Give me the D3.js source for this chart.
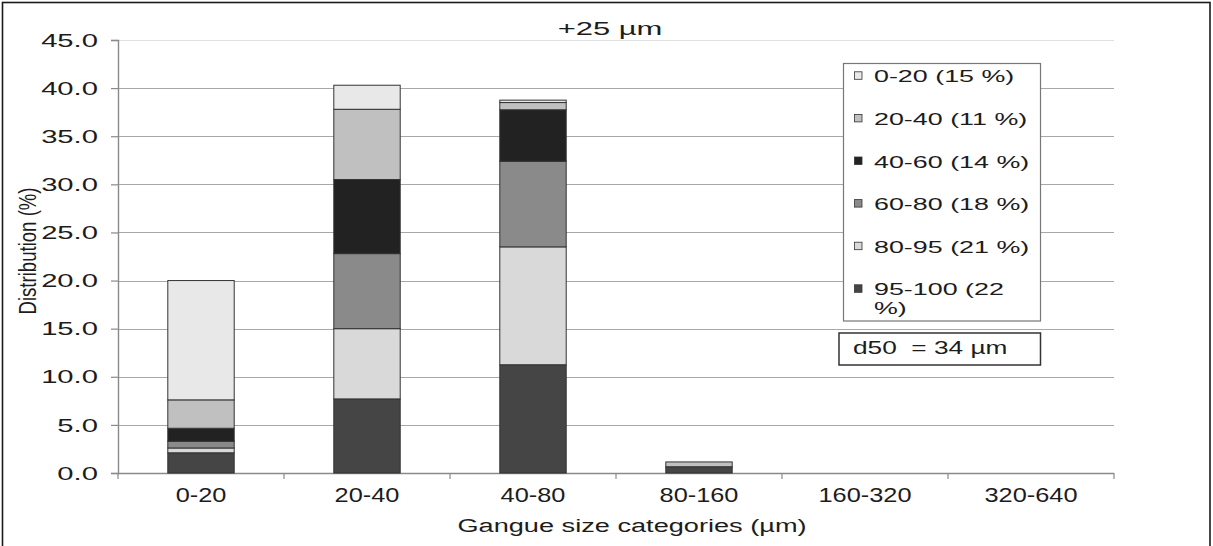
<!DOCTYPE html>
<html><head><meta charset="utf-8">
<script src="https://cdn.jsdelivr.net/npm/d3@7"></script>
<style>
html,body{margin:0;padding:0;background:#fff;}
svg{display:block;font-family:"Liberation Sans",Arial,sans-serif;}
text{white-space:pre;}
</style></head>
<body>
<svg id="chart" width="1213" height="546"></svg>
<script>
// ---------- data ----------
const categories = ["0-20","20-40","40-80","80-160","160-320","320-640"];
// stack order bottom -> top
const seriesKeys = ["95-100","80-95","60-80","40-60","20-40","0-20"];
const s95_100 = [2.1, 7.7, 11.25, 0.65, 0, 0];
const s80_95  = [0.5, 7.3, 12.25, 0, 0, 0];
const s60_80  = [0.7, 7.8, 8.9, 0, 0, 0];
const s40_60  = [1.35, 7.7, 5.35, 0, 0, 0];
const s20_40  = [2.95, 7.3, 0.75, 0.5, 0, 0];
const s0_20   = [12.4, 2.5, 0.25, 0, 0, 0];
const legendKeys = ["0-20","20-40","40-60","60-80","80-95","95-100"];
const legendLabels = ["0-20 (15 %)","20-40 (11 %)","40-60 (14 %)","60-80 (18 %)","80-95 (21 %)","95-100 (22"];
const yTicks = [0,5,10,15,20,25,30,35,40,45];
const titleText = "+25 µm";
const xTitle = "Gangue size categories (µm)";
const yTitle = "Distribution (%)";
const d50Text = "d50  = 34 µm";

const seriesValues = {"95-100":s95_100,"80-95":s80_95,"60-80":s60_80,"40-60":s40_60,"20-40":s20_40,"0-20":s0_20};
const colors = {"0-20":"#e8e8e8","20-40":"#c0c0c0","40-60":"#222222","60-80":"#8a8a8a","80-95":"#d9d9d9","95-100":"#454545"};

const table = categories.map((c,i)=>{
  const row = {cat:c};
  seriesKeys.forEach(k=>row[k]=seriesValues[k][i]);
  return row;
});

// ---------- layout ----------
const svg = d3.select("#chart");
const pLeft = 118, pRight = 1114, pTop = 40, pBottom = 473;
const x = d3.scaleBand().domain(categories).range([pLeft,pRight]).paddingInner(0.6).paddingOuter(0.3);
const y = d3.scaleLinear().domain([0,45]).range([pBottom,pTop]);
const textColor = "#1c1c1c";

function stretched(parent, tx, ty, txt, size, k, anchor){
  return parent.append("text")
    .attr("transform",`translate(${tx},${ty}) scale(${k},1)`)
    .attr("text-anchor",anchor)
    .attr("font-size",size)
    .attr("fill",textColor)
    .text(txt);
}

// outer frame
svg.append("rect").attr("x",2.5).attr("y",2.5).attr("width",1207.5).attr("height",560)
  .attr("fill","none").attr("stroke","#1a1a1a").attr("stroke-width",1.6);

// gridlines
svg.append("g").selectAll("line").data(yTicks).join("line")
  .attr("x1",pLeft).attr("x2",pRight)
  .attr("y1",d=>Math.round(y(d))+0.5).attr("y2",d=>Math.round(y(d))+0.5)
  .attr("stroke",d=>d===45?"#e0e0e0":(d===0?"#8a8a8a":"#a8a8a8")).attr("stroke-width",1.2);

// y axis
const yAxis = svg.append("g").attr("transform",`translate(${pLeft},0)`)
  .call(d3.axisLeft(y).tickValues(yTicks).tickFormat(d3.format(".1f")).tickSize(7).tickPadding(0));
yAxis.select(".domain").attr("stroke","#8a8a8a").attr("stroke-width",1.4);
yAxis.selectAll(".tick line").attr("stroke","#8a8a8a").attr("stroke-width",1.2);
yAxis.selectAll(".tick text")
  .attr("x",0).attr("dy",null)
  .attr("dominant-baseline","central")
  .attr("transform","translate(-20,0) scale(1.67,1)")
  .attr("font-size",17.5).attr("font-family","Liberation Sans, Arial, sans-serif")
  .attr("fill",textColor).attr("text-anchor","end");

// x axis
const xAxisG = svg.append("g");
xAxisG.append("line").attr("x1",pLeft).attr("x2",pRight).attr("y1",pBottom+0.5).attr("y2",pBottom+0.5)
  .attr("stroke","#8a8a8a").attr("stroke-width",1.4);
const step = x.step();
xAxisG.selectAll("line.tk").data(d3.range(categories.length+1)).join("line").attr("class","tk")
  .attr("x1",i=>pLeft+i*step).attr("x2",i=>pLeft+i*step)
  .attr("y1",pBottom).attr("y2",pBottom+6)
  .attr("stroke","#8a8a8a").attr("stroke-width",1.2);
categories.forEach(c=>{
  stretched(svg, x(c)+x.bandwidth()/2, 501.5, c, 19.5, 1.3, "middle");
});

// bars
const stack = d3.stack().keys(seriesKeys);
const stacked = stack(table);
svg.append("g").selectAll("g").data(stacked).join("g")
  .attr("fill",d=>colors[d.key])
  .selectAll("rect").data(d=>d.filter(s=>s[1]-s[0]>0)).join("rect")
  .attr("x",d=>x(d.data.cat))
  .attr("width",x.bandwidth())
  .attr("y",d=>y(d[1]))
  .attr("height",d=>y(d[0])-y(d[1]))
  .attr("stroke","#333").attr("stroke-width",1);

// title
stretched(svg, 610, 35, titleText, 18, 1.72, "middle");

// axis titles
stretched(svg, 632, 531.5, xTitle, 18.6, 1.46, "middle");
svg.append("text")
  .attr("transform","translate(36,251) rotate(-90) scale(1,1.3)")
  .attr("text-anchor","middle").attr("font-size",18.6).attr("fill",textColor)
  .text(yTitle);

// legend
const lg = svg.append("g");
lg.append("rect").attr("x",843.5).attr("y",63.5).attr("width",197).attr("height",257.5)
  .attr("fill","#fff").attr("stroke","#777").attr("stroke-width",1.2);
legendKeys.forEach((k,i)=>{
  const by = 82.3 + i*42.6;
  lg.append("rect").attr("x",854.5).attr("y",by-10.5).attr("width",7.5).attr("height",7.5)
    .attr("fill",colors[k]).attr("stroke","#333").attr("stroke-width",0.8);
  stretched(lg, 874, by, legendLabels[i], 17, 1.58, "start");
});
stretched(lg, 874, 314, "%)", 17, 1.58, "start");

// d50 box
svg.append("rect").attr("x",839).attr("y",333).attr("width",201.5).attr("height",32)
  .attr("fill","#fff").attr("stroke","#333").attr("stroke-width",1.5);
stretched(svg, 853, 354, d50Text, 17.5, 1.5, "start");
</script>
</body></html>
